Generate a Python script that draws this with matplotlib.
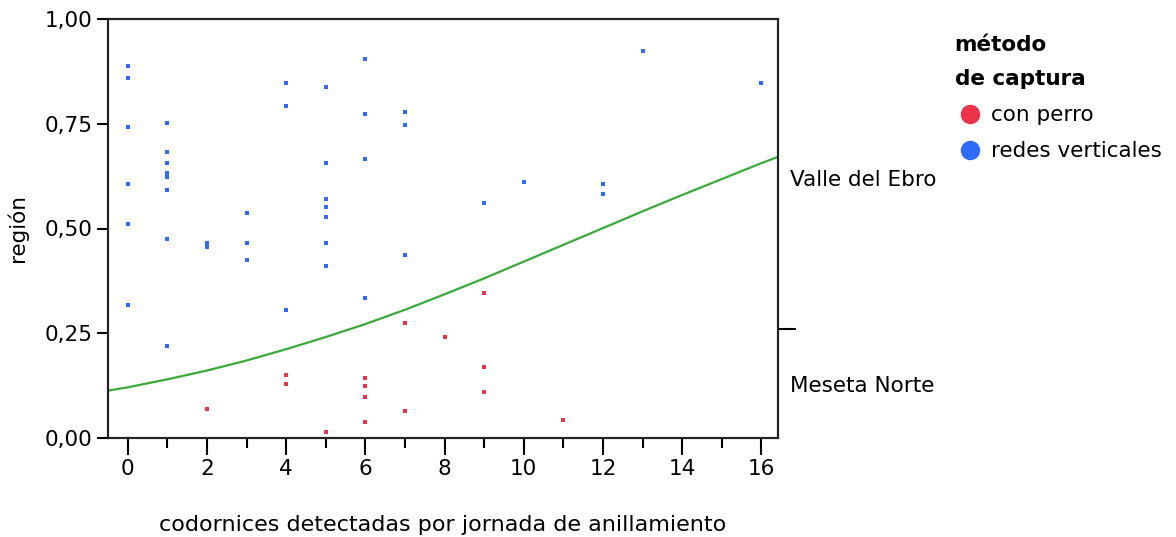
import numpy as np
import matplotlib.pyplot as plt
from matplotlib.lines import Line2D

# codornices detectadas (x) vs. región (y) por método de captura
perro_x = [2, 4, 4, 5, 6, 6, 6, 6, 7, 7, 8, 9, 9, 9, 11]
perro_y = [0.069, 0.150, 0.129, 0.014, 0.144, 0.124, 0.099, 0.038,
           0.275, 0.064, 0.240, 0.345, 0.169, 0.109, 0.043]

redes_x = [0, 0, 0, 0, 0, 0,
           1, 1, 1, 1, 1, 1, 1, 1,
           2, 2, 3, 3, 3,
           4, 4, 4,
           5, 5, 5, 5, 5, 5, 5,
           6, 6, 6, 6,
           7, 7, 7,
           9, 10, 12, 12, 13, 16]
redes_y = [0.889, 0.858, 0.742, 0.607, 0.511, 0.317,
           0.752, 0.683, 0.657, 0.632, 0.622, 0.592, 0.474, 0.220,
           0.466, 0.455, 0.536, 0.466, 0.426,
           0.848, 0.793, 0.305,
           0.838, 0.657, 0.571, 0.551, 0.527, 0.466, 0.410,
           0.904, 0.773, 0.667, 0.335,
           0.778, 0.748, 0.436,
           0.562, 0.612, 0.607, 0.582, 0.924, 0.848]

curva_x = [-0.5, 0, 1, 2, 3, 4, 5, 6, 7, 8, 9, 10, 11, 12, 13, 14, 15, 16, 16.42]
curva_y = [0.113, 0.121, 0.140, 0.161, 0.185, 0.212, 0.241, 0.272, 0.306,
           0.343, 0.381, 0.421, 0.461, 0.501, 0.541, 0.580, 0.618, 0.656, 0.671]

region_corte = 0.26
regiones = ['Meseta Norte', 'Valle del Ebro']
metodos = ['con perro', 'redes verticales']
colores = ['#ec3348', '#2f6bff']

plt.rcParams['font.family'] = 'DejaVu Sans'
plt.rcParams['font.size'] = 15.5

fig = plt.figure(figsize=(11.76, 5.37), dpi=100)
ax = fig.add_axes([108/1176, 1-438/537, 670/1176, 419/537])

ax.scatter(perro_x, perro_y, marker='s', s=10, color=colores[0], linewidths=0, zorder=3)
ax.scatter(redes_x, redes_y, marker='s', s=10, color=colores[1], linewidths=0, zorder=3)
ax.plot(curva_x, curva_y, color='#3aaa3a', lw=1.6, zorder=2)

ax.set_xlim(-0.5, 16.42)
ax.set_ylim(0, 1)
ax.set_xticks(range(0, 17, 2))
ax.set_xticks(range(1, 17, 2), minor=True)
ax.set_yticks([0, 0.25, 0.5, 0.75, 1.0])
ax.set_yticklabels(['0,00', '0,25', '0,50', '0,75', '1,00'])
ax.tick_params(axis='x', which='major', length=12, width=1.5, pad=3)
ax.tick_params(axis='x', which='minor', length=7, width=1.5)
ax.tick_params(axis='y', which='major', length=8, width=1.5, pad=3)
for s in ax.spines.values():
    s.set_linewidth(1.5)
    s.set_color('#222222')

ax.set_xlabel('codornices detectadas por jornada de anillamiento', labelpad=26,
              fontsize=16)
ax.set_ylabel('región', labelpad=12)

# eje derecho con las dos regiones
ax2 = ax.twinx()
ax2.set_ylim(0, 1)
ax2.set_yticks([region_corte])
ax2.set_yticklabels([''])
ax2.set_yticks([region_corte / 2, 0.62], minor=True)
ax2.set_yticklabels(regiones, minor=True)
ax2.tick_params(axis='y', which='major', length=13, width=1.5)
ax2.tick_params(axis='y', which='minor', length=0, pad=9)
for s in ax2.spines.values():
    s.set_linewidth(1.5)
    s.set_color('#222222')

handles = [Line2D([], [], marker='o', ls='', markersize=13, color=c) for c in colores]
leg = fig.legend(handles, metodos, title='método\nde captura', loc='upper left',
                 bbox_to_anchor=(946/1176, 1-26/537), frameon=False,
                 handletextpad=0.3, labelspacing=0.75, alignment='left',
                 title_fontproperties={'weight': 'bold', 'size': 15.5},
                 borderaxespad=0, handlelength=1.4)
leg.get_title().set_linespacing(1.9)

fig.savefig('out.png', dpi=100)
